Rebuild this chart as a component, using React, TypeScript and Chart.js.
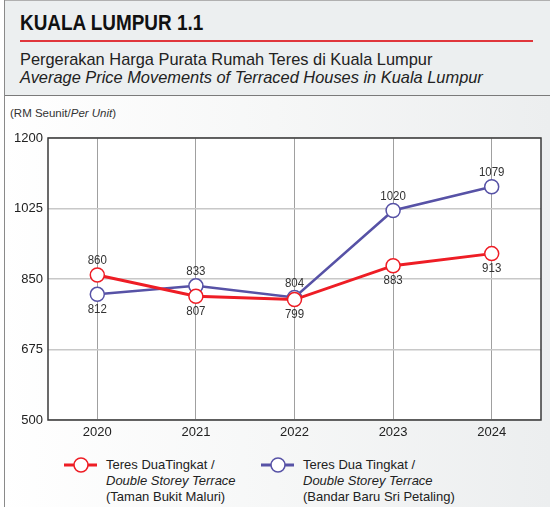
import React, { useEffect, useRef } from "react";
import { Chart, registerables } from "chart.js";

Chart.register(...registerables);

const years = ["2020", "2021", "2022", "2023", "2024"];
const maluri = [860, 807, 799, 883, 913];
const petaling = [812, 833, 804, 1020, 1079];
const maluriLabelPos = ["above", "below", "below", "below", "below"];
const petalingLabelPos = ["below", "above", "above", "above", "above"];
const yTicks = [500, 675, 850, 1025, 1200];

const RED = "#ee1d25";
const BLUE = "#5752a6";
const FONT = "'Liberation Sans', Arial, sans-serif";

const plotBox = {
  id: "plotBox",
  beforeDraw(chart: any) {
    const { ctx, chartArea: a } = chart;
    ctx.save();
    ctx.fillStyle = "#ffffff";
    ctx.fillRect(a.left, a.top, a.right - a.left, a.bottom - a.top);
    ctx.restore();
  },
  afterDraw(chart: any) {
    const { ctx, chartArea: a } = chart;
    ctx.save();
    ctx.strokeStyle = "#3a3a3a";
    ctx.lineWidth = 1.5;
    ctx.strokeRect(a.left, a.top, a.right - a.left, a.bottom - a.top);
    ctx.restore();
  },
};

const valueLabels = {
  id: "valueLabels",
  afterDatasetsDraw(chart: any) {
    const { ctx } = chart;
    const positions = [maluriLabelPos, petalingLabelPos];
    ctx.save();
    ctx.fillStyle = "#333333";
    ctx.font = "12.5px " + FONT;
    ctx.textAlign = "center";
    ctx.textBaseline = "middle";
    chart.data.datasets.forEach((ds: any, di: number) => {
      const meta = chart.getDatasetMeta(di);
      meta.data.forEach((pt: any, i: number) => {
        const above = positions[di][i] === "above";
        const y = pt.y + (above ? -14 : 15);
        ctx.save();
        ctx.translate(pt.x, y);
        ctx.scale(0.92, 1);
        ctx.fillText(String(ds.data[i]), 0, 0);
        ctx.restore();
      });
    });
    ctx.restore();
  },
};

function LegendMarker({ color }: { color: string }) {
  return (
    <svg width="34" height="18" style={{ display: "block" }}>
      <line x1="0" y1="9" x2="33" y2="9" stroke={color} strokeWidth="3" />
      <circle cx="17" cy="9" r="7" fill="#ffffff" stroke={color} strokeWidth="1.5" />
    </svg>
  );
}

export default function App() {
  const ref = useRef<HTMLCanvasElement | null>(null);

  useEffect(() => {
    if (!ref.current) return;
    const chart = new Chart(ref.current, {
      type: "line",
      data: {
        labels: years,
        datasets: [
          {
            label: "Teres DuaTingkat / Double Storey Terrace (Taman Bukit Maluri)",
            data: maluri,
            borderColor: RED,
            borderWidth: 3,
            pointRadius: 7,
            pointBorderWidth: 1.5,
            pointBackgroundColor: "#ffffff",
            pointBorderColor: RED,
            tension: 0,
          },
          {
            label: "Teres Dua Tingkat / Double Storey Terrace (Bandar Baru Sri Petaling)",
            data: petaling,
            borderColor: BLUE,
            borderWidth: 2.5,
            pointRadius: 7,
            pointBorderWidth: 1.5,
            pointBackgroundColor: "#ffffff",
            pointBorderColor: BLUE,
            tension: 0,
          },
        ],
      },
      options: {
        animation: false,
        responsive: false,
        maintainAspectRatio: false,
        layout: { padding: { top: 38, right: 9, bottom: 0, left: 0 } },
        plugins: {
          legend: { display: false },
          tooltip: { enabled: false },
        },
        scales: {
          x: {
            offset: true,
            grid: {
              display: true,
              color: "#a0a0a0",
              lineWidth: 1,
              borderDash: [2, 3],
              drawTicks: false,
              offset: false,
            } as any,
            border: { display: false },
            ticks: {
              color: "#222222",
              font: { size: 13, family: FONT },
              padding: 5,
            },
            afterFit(scale: any) {
              scale.height = 25;
            },
          },
          y: {
            min: 500,
            max: 1200,
            afterBuildTicks(scale: any) {
              scale.ticks = yTicks.map((v) => ({ value: v }));
            },
            grid: { color: "#c8c8c8", lineWidth: 1.5, drawTicks: false },
            border: { display: false },
            ticks: {
              color: "#222222",
              font: { size: 13, family: FONT },
              padding: 5,
              callback: (v: any) => String(v),
            },
            afterFit(scale: any) {
              scale.width = 48;
            },
          },
        },
      },
      plugins: [plotBox, valueLabels],
    });
    return () => chart.destroy();
  }, []);

  const legendText: React.CSSProperties = {
    position: "absolute",
    fontFamily: FONT,
    fontSize: 13,
    lineHeight: "16px",
    color: "#222",
    whiteSpace: "nowrap",
  };

  return (
    <div
      style={{
        position: "absolute",
        left: 0,
        top: 0,
        width: 550,
        height: 507,
        overflow: "hidden",
        background: "linear-gradient(to right, #ffffff 0%, #f6f7f7 50%, #eceeef 100%)",
        fontFamily: FONT,
      }}
    >
      <div
        style={{
          position: "absolute",
          left: 4,
          top: 0,
          width: 1,
          height: 507,
          background: "#8a8a8a",
        }}
      />
      <div
        style={{
          position: "absolute",
          left: 5,
          top: 0,
          width: 545,
          height: 94,
          background: "#eceff0",
          borderTop: "1px solid #b0b0b0",
          borderBottom: "1.5px solid #7a7a7a",
        }}
      />
      <div
        style={{
          position: "absolute",
          left: 20,
          top: 12,
          fontSize: 22,
          lineHeight: "22px",
          fontWeight: "bold",
          color: "#111",
          whiteSpace: "nowrap",
          transform: "scaleX(0.86)",
          transformOrigin: "left center",
        }}
      >
        KUALA LUMPUR 1.1
      </div>
      <div
        style={{
          position: "absolute",
          left: 20,
          top: 40,
          width: 513,
          height: 2,
          background: "#e0363c",
        }}
      />
      <div
        style={{
          position: "absolute",
          left: 20,
          top: 51,
          fontSize: 16.4,
          lineHeight: "16px",
          color: "#222",
          whiteSpace: "nowrap",
        }}
      >
        Pergerakan Harga Purata Rumah Teres di Kuala Lumpur
      </div>
      <div
        style={{
          position: "absolute",
          left: 20,
          top: 69,
          fontSize: 16.4,
          lineHeight: "16px",
          fontStyle: "italic",
          color: "#222",
          whiteSpace: "nowrap",
        }}
      >
        Average Price Movements of Terraced Houses in Kuala Lumpur
      </div>
      <div
        style={{
          position: "absolute",
          left: 10,
          top: 106,
          fontSize: 11.5,
          lineHeight: "14px",
          color: "#333",
          whiteSpace: "nowrap",
        }}
      >
        (RM Seunit/<i>Per Unit</i>)
      </div>
      <canvas
        ref={ref}
        width={550}
        height={345}
        style={{ position: "absolute", left: 0, top: 100, width: 550, height: 345 }}
      />
      <div style={{ position: "absolute", left: 64, top: 456 }}>
        <LegendMarker color={RED} />
      </div>
      <div style={{ ...legendText, left: 106, top: 457 }}>
        Teres DuaTingkat /
        <br />
        <i>Double Storey Terrace</i>
        <br />
        (Taman Bukit Maluri)
      </div>
      <div style={{ position: "absolute", left: 261, top: 456 }}>
        <LegendMarker color={BLUE} />
      </div>
      <div style={{ ...legendText, left: 303, top: 457 }}>
        Teres Dua Tingkat /
        <br />
        <i>Double Storey Terrace</i>
        <br />
        (Bandar Baru Sri Petaling)
      </div>
    </div>
  );
}
